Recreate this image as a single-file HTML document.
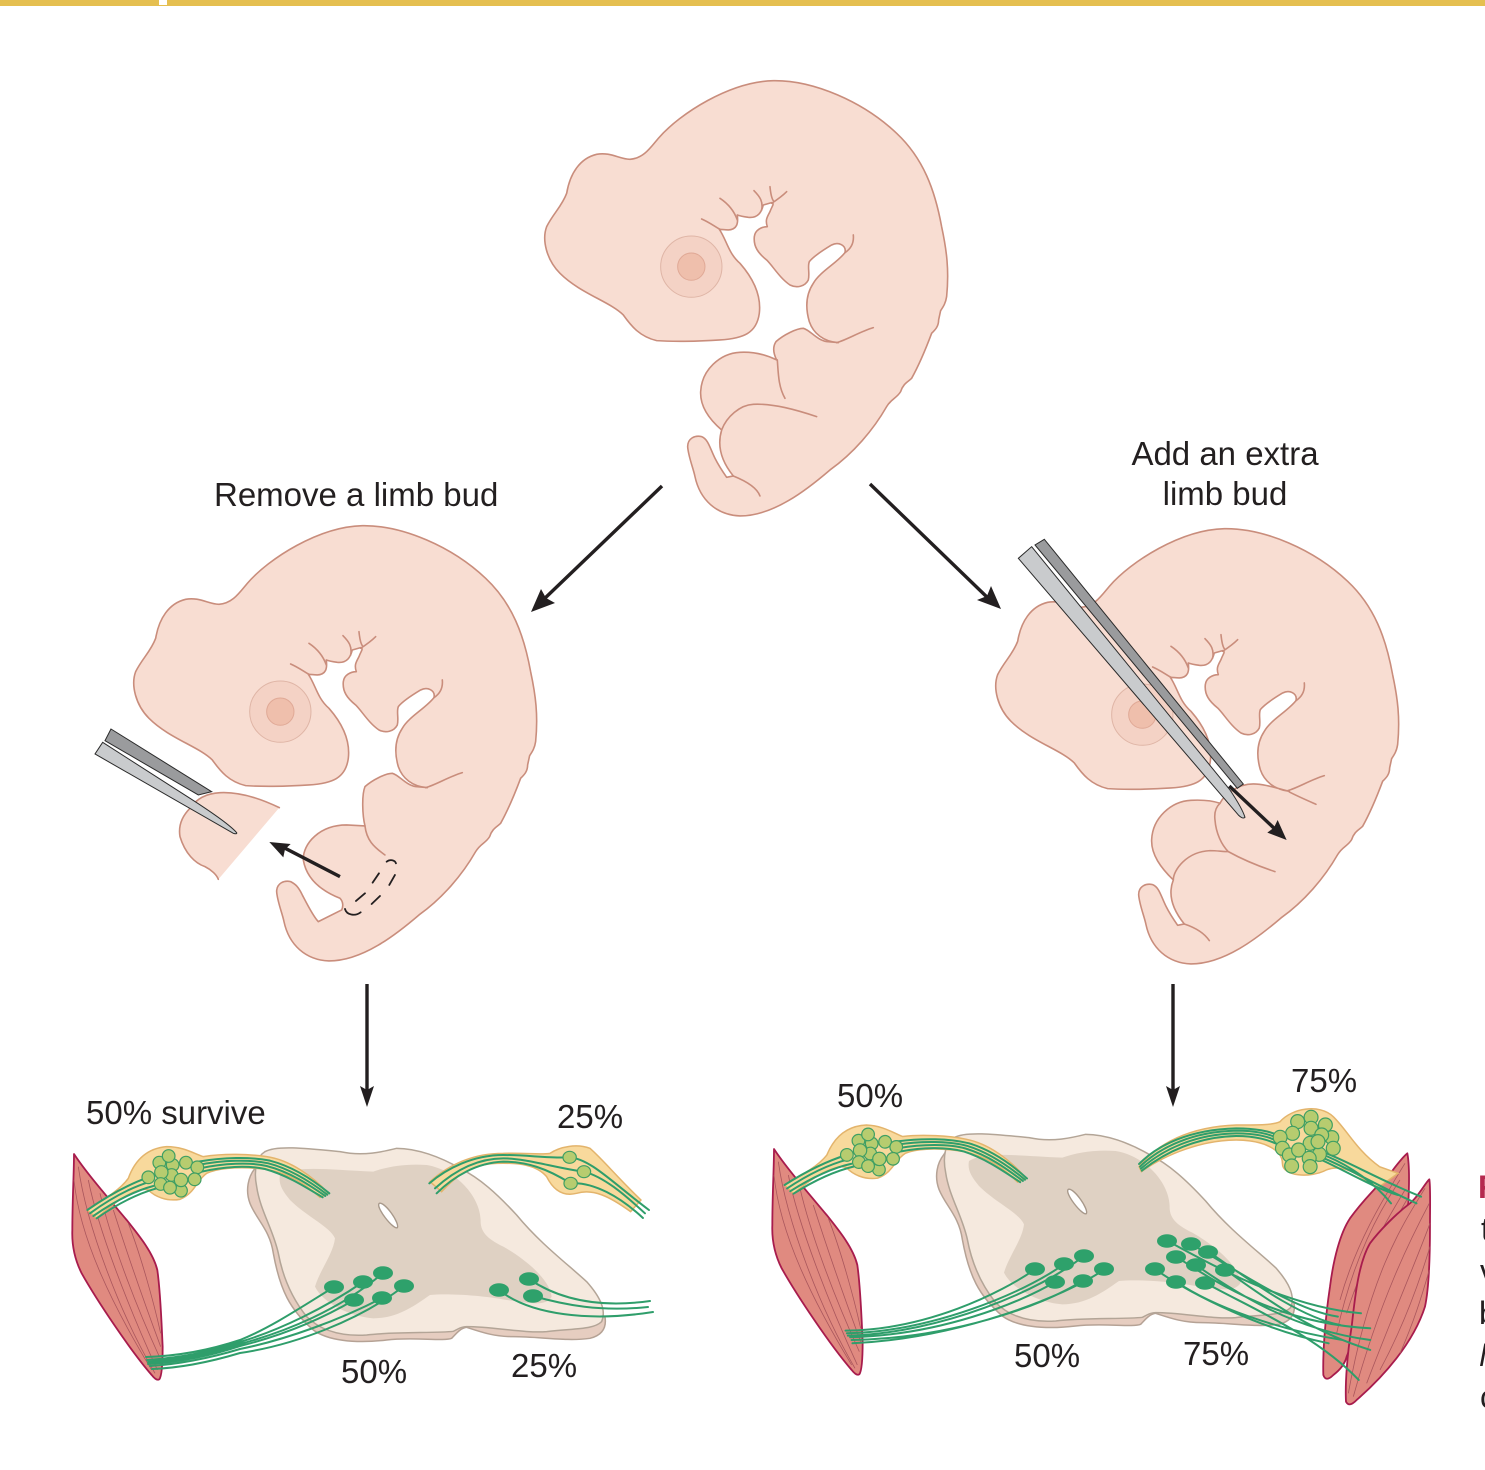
<!DOCTYPE html>
<html><head><meta charset="utf-8"><style>
html,body{margin:0;padding:0;background:#fff;width:1485px;height:1470px;overflow:hidden}
svg{display:block}
*{vector-effect:non-scaling-stroke}
text{font-family:"Liberation Sans",sans-serif;font-size:33px;fill:#231f20}
.b{fill:#f8ddd2;stroke:none}
.o{fill:none;stroke:#c98d7c;stroke-width:1.6;stroke-linecap:round;stroke-linejoin:round}
.ob{fill:#f8ddd2;stroke:#c98d7c;stroke-width:1.6;stroke-linejoin:round}
.ar{fill:none;stroke:#231f20;stroke-width:3.4}
.ah{fill:#231f20;stroke:none}
.rear{fill:#e6cdc0;stroke:#b5a295;stroke-width:1.5}
.front{fill:#f5e9de;stroke:#b3a597;stroke-width:1.5}
.grey{fill:#dfd1c3;stroke:none}
.can{fill:#fff;stroke:#a8998b;stroke-width:1.4}
.gang{fill:#f8d99c;stroke:#e3b46c;stroke-width:1.5}
.f{fill:none;stroke:#2f9e6b;stroke-width:2;stroke-linecap:round}
.c{fill:#b7cc6f;stroke:#3f9f63;stroke-width:1.2}
.n{fill:#2ea16b;stroke:none}
.m{fill:#e08a80;stroke:#a81c4d;stroke-width:1.8;stroke-linejoin:round}
.ml{fill:none;stroke:#a9565c;stroke-width:.8}
.fd{fill:#9a9b9d;stroke:#2a2a2a;stroke-width:1}
.fl{fill:#c9cbcd;stroke:#2a2a2a;stroke-width:1}
</style></head><body>
<svg width="1485" height="1470" viewBox="0 0 1485 1470" xmlns="http://www.w3.org/2000/svg">
<defs>
<g id="eye">
<circle cx="484" cy="590" r="92" fill="#f4d2c5" stroke="#dfb5a6" stroke-width="1"/>
<circle cx="484" cy="590" r="41" fill="#efbfac" stroke="#e0a996" stroke-width="1"/>
</g>
<g id="lines" class="o">
<path d="M515,447C540,458 555,470 570,478M570,385C600,405 615,430 622,450M672,362C690,380 700,395 695,420M720,350C722,370 725,385 730,392M770,365C755,380 740,390 725,400M970,495C972,515 965,535 945,548M1030,773C990,785 950,810 920,818"/>
</g>
<path id="full" d="M300,268C340,265 360,235 385,205C450,130 600,35 730,32C850,30 1000,95 1100,190C1180,265 1215,360 1235,470C1250,540 1258,600 1250,680C1247,700 1240,710 1232,722L1226,750C1226,770 1215,780 1205,790C1190,830 1170,880 1145,925C1135,935 1120,940 1112,965C1100,985 1085,985 1070,1010C1030,1080 970,1150 900,1200C830,1260 730,1338 630,1338C560,1335 510,1290 495,1220C490,1195 475,1160 473,1130C473,1105 495,1095 515,1100C535,1108 540,1135 555,1165C565,1185 578,1205 590,1222L610,1218C575,1175 560,1130 575,1080C540,1050 510,1010 512,965C515,900 570,850 630,847C670,845 710,855 740,870C730,850 728,830 738,815C760,795 800,775 820,775C840,780 860,810 890,815L925,818C880,815 850,790 838,755C825,710 830,670 850,640C870,605 920,580 945,548C950,525 925,515 905,525C880,540 850,560 838,575C832,590 840,610 835,630C825,650 800,655 780,645C750,625 730,590 710,570C685,550 670,530 673,500C675,480 695,470 712,470C705,450 712,440 720,425C725,410 735,400 725,398L700,405C695,425 685,445 655,442C640,440 630,438 622,435C625,460 622,478 595,480C585,480 575,478 568,478C590,510 595,550 630,580C665,620 695,670 688,730C680,790 640,805 570,810C500,815 420,815 380,812C330,800 305,770 280,735C240,695 150,670 90,610C50,570 35,510 50,470C70,430 95,410 110,370C120,310 150,265 200,253C240,245 270,268 300,268Z"/>
<path id="rightbody" d="M300,268C340,265 360,235 385,205C450,130 600,35 730,32C850,30 1000,95 1100,190C1180,265 1215,360 1235,470C1250,540 1258,600 1250,680C1247,700 1240,710 1232,722L1226,750C1226,770 1215,780 1205,790C1190,830 1170,880 1145,925C1135,935 1120,940 1112,965C1100,985 1085,985 1070,1010C1030,1080 970,1150 900,1200C830,1260 730,1338 630,1338C560,1335 510,1290 495,1220C490,1195 475,1160 473,1130C473,1105 495,1095 515,1100C535,1108 540,1135 555,1165C565,1185 578,1205 590,1222L610,1218C575,1175 560,1130 577,1086C540,1050 510,1010 512,965C515,900 570,850 630,847C670,845 700,850 717,856C730,830 770,798 817,798C850,798 885,810 925,820C880,815 850,790 838,755C825,710 830,670 850,640C870,605 920,580 945,548C950,525 925,515 905,525C880,540 850,560 838,575C832,590 840,610 835,630C825,650 800,655 780,645C750,625 730,590 710,570C685,550 670,530 673,500C675,480 695,470 712,470C705,450 712,440 720,425C725,410 735,400 725,398L700,405C695,425 685,445 655,442C640,440 630,438 622,435C625,460 622,478 595,480C585,480 575,478 568,478C590,510 595,550 630,580C665,620 695,670 688,730C680,790 640,805 570,810C500,815 420,815 380,812C330,800 305,770 280,735C240,695 150,670 90,610C50,570 35,510 50,470C70,430 95,410 110,370C120,310 150,265 200,253C240,245 270,268 300,268Z"/>
<path id="leftbody" d="M300,268C340,265 360,235 385,205C450,130 600,35 730,32C850,30 1000,95 1100,190C1180,265 1215,360 1235,470C1250,540 1258,600 1250,680C1247,700 1240,710 1232,722L1226,750C1226,770 1215,780 1205,790C1190,830 1170,880 1145,925C1135,935 1120,940 1112,965C1100,985 1085,985 1070,1010C1030,1080 970,1150 900,1200C830,1260 730,1338 630,1338C560,1335 510,1290 495,1220C490,1195 475,1160 473,1130C473,1105 495,1095 515,1100C530,1108 538,1115 550,1140C563,1165 583,1205 598,1220L668,1185C673,1175 673,1160 663,1150C613,1130 563,1095 553,1035C551,985 603,930 683,930L738,933C730,900 728,840 738,815C760,795 800,775 820,775C840,780 860,810 890,815L925,818C880,815 850,790 838,755C825,710 830,670 850,640C870,605 920,580 945,548C950,525 925,515 905,525C880,540 850,560 838,575C832,590 840,610 835,630C825,650 800,655 780,645C750,625 730,590 710,570C685,550 670,530 673,500C675,480 695,470 712,470C705,450 712,440 720,425C725,410 735,400 725,398L700,405C695,425 685,445 655,442C640,440 630,438 622,435C625,460 622,478 595,480C585,480 575,478 568,478C590,510 595,550 630,580C665,620 695,670 688,730C680,790 640,805 570,810C500,815 420,815 380,812C330,800 305,770 280,735C240,695 150,670 90,610C50,570 35,510 50,470C70,430 95,410 110,370C120,310 150,265 200,253C240,245 270,268 300,268Z"/>
<g id="cord">
<path class="rear" d="M45,85C25,110 15,150 30,190C50,240 90,270 100,340C120,450 150,510 220,570C260,600 340,612 440,600C520,590 610,605 635,595C650,580 660,565 680,562C720,575 760,590 820,590C900,590 980,605 1050,595C1090,585 1100,560 1095,530L75,35Z"/>
<path class="front" d="M75,35C110,15 200,25 300,35C370,50 430,35 470,25C530,25 600,50 660,85C720,115 770,160 830,225C900,310 980,370 1040,425C1080,470 1100,510 1085,545C1060,570 1000,565 920,575C850,580 760,560 680,560C660,560 650,570 640,574C590,580 460,575 380,585C300,590 240,570 200,530C160,480 130,420 115,340C100,270 60,210 50,140C40,90 50,50 75,35Z"/>
<path class="grey" d="M120,105C170,75 270,90 400,95C440,80 500,70 560,75C650,90 720,170 722,240C720,280 750,300 790,320C860,360 930,420 935,470C920,500 870,490 800,480C720,465 620,460 570,465C520,500 470,535 400,535C330,530 250,490 225,440C240,390 280,340 285,295C270,260 200,230 150,180C125,150 115,130 120,105Z"/>
<path class="can" d="M418,190C435,185 480,250 472,263C460,270 405,200 418,190Z"/>
</g>
<g id="lmus">
<path class="m" d="M12,42C50,100 120,180 170,240C210,290 250,340 262,390C272,460 275,560 278,620C278,680 274,710 268,718C262,722 255,718 245,705C180,630 80,480 35,400C15,360 5,320 7,270C7,180 12,100 12,42Z"/>
<path class="ml" d="M12,120C30,300 130,500 245,690M25,80C50,260 150,520 255,700M55,120C85,270 175,500 262,690M90,160C120,290 190,480 268,650M130,210C165,320 220,480 272,620M175,250C210,340 250,480 272,580"/>
</g>
<g id="lgang">
<path class="gang" d="M52,210C100,180 150,150 175,115C195,60 230,25 290,20C340,20 370,40 400,50C460,40 540,42 590,50C660,60 730,110 775,160L750,172C700,125 640,90 560,85C500,80 440,85 410,100C380,120 375,160 330,178C290,185 255,170 235,150C210,140 150,170 80,235Z"/>
<path class="f" d="M52,210C110,170 170,135 235,112M60,220C115,180 175,145 240,125M70,228C125,190 185,155 250,138M80,235C130,200 190,165 260,145M385,65C460,52 540,50 600,62C670,80 730,120 778,160M385,75C460,60 540,58 595,70C665,88 725,128 772,164M390,85C460,70 540,66 590,78C660,96 715,133 766,168M395,95C460,80 530,75 585,87C650,105 705,140 758,172"/>
<g class="c">
<circle cx="268" cy="68" r="19"/><circle cx="348" cy="68" r="19"/><circle cx="308" cy="75" r="19"/><circle cx="382" cy="82" r="19"/><circle cx="296" cy="48" r="19"/><circle cx="305" cy="105" r="19"/><circle cx="274" cy="97" r="20"/><circle cx="235" cy="112" r="19"/><circle cx="374" cy="118" r="19"/><circle cx="272" cy="132" r="19"/><circle cx="333" cy="152" r="19"/><circle cx="300" cy="143" r="19"/><circle cx="333" cy="120" r="20"/>
</g>
</g>
</defs>

<rect x="0" y="0" width="1485" height="6" fill="#e5bf50"/>
<rect x="159" y="0" width="8" height="5" fill="#fff"/>

<!-- top embryo -->
<g transform="translate(530,70) scale(.3333)">
<use href="#full" class="ob"/>
<use href="#eye"/><use href="#lines"/>
<path class="o" d="M742,870C745,910 745,950 765,985M860,1040C800,1020 730,1000 670,1003C630,1005 590,1040 575,1080M610,1218C640,1230 680,1250 690,1278"/>
</g>

<!-- left embryo -->
<g transform="translate(119,515) scale(.3333)">
<use href="#leftbody" class="ob"/>
<use href="#eye"/><use href="#lines"/>
<path class="o" d="M738,933C743,975 763,995 798,1020"/>
</g>
<g transform="translate(80,710) scale(.3333)">
<path class="fd" d="M93,57L395,245L355,255L75,92Z"/>
<path class="b" d="M598,293C540,265 480,245 420,248C380,250 350,265 330,295C305,320 295,350 300,380C315,430 345,460 375,470C395,480 410,495 415,508Z"/>
<path class="o" d="M598,293C540,265 480,245 420,248C380,250 350,265 330,295C305,320 295,350 300,380C315,430 345,460 375,470C395,480 410,495 415,508"/>
<path class="fl" d="M68,97L330,265C400,310 450,345 470,368C472,372 465,372 460,370L45,132Z"/>
<path fill="none" stroke="#231f20" stroke-width="1.8" stroke-linecap="round" d="M920,455C930,447 945,450 948,460M945,495L928,525M897,490L878,518M855,550L828,573M900,558L875,582M795,597C800,615 825,620 842,607"/>
<path class="ar" d="M780,500L610,412"/>
<path class="ah" d="M568,396L632,402L615,418L610,442Z"/>
</g>

<!-- right embryo -->
<g transform="translate(981,518) scale(.3333)">
<use href="#rightbody" class="ob"/>
<use href="#eye"/><use href="#lines"/>
<path class="o" d="M717,856C702,870 700,890 702,906C705,946 722,981 742,1001C787,1026 837,1046 882,1061M577,1086C577,1056 617,1001 687,998C707,998 727,1001 742,1001M925,822C950,835 980,848 1005,859M610,1218C640,1228 670,1245 685,1268"/>
</g>
<g transform="translate(1010,530) scale(.3333)">
<path class="fd" d="M103,28L700,762L682,775L75,45Z"/>
<path class="fl" d="M65,50L660,780C680,810 700,845 705,862C700,868 690,860 685,855L25,85Z"/>
<path class="ar" d="M658,768L800,902"/>
<path class="ah" d="M830,930L772,908L792,893L803,870Z"/>
</g>

<!-- main arrows -->
<path class="ar" d="M662,486L542,601"/><path class="ah" d="M531,612L541,589L546,598L555,603Z"/>
<path class="ar" d="M870,484L990,600"/><path class="ah" d="M1001,609L977,600L987,596L991,586Z"/>
<path class="ar" d="M367,984V1092"/><path class="ah" d="M367,1107L360,1086L367,1090L374,1086Z"/>
<path class="ar" d="M1173,984V1092"/><path class="ah" d="M1173,1107L1166,1086L1173,1090L1180,1086Z"/>

<!-- bottom left -->
<g transform="translate(70,1140) scale(.3333)"><use href="#lmus"/></g>
<g transform="translate(240,1140) scale(.3333)"><use href="#cord"/></g>
<g transform="translate(70,1140) scale(.3333)"><use href="#lgang"/></g>
<g transform="translate(240,1140) scale(.3333)">
<path class="gang" d="M570,125C620,80 690,40 790,40C860,38 900,45 930,40C960,20 1010,10 1050,25C1090,60 1130,110 1203,180L1172,215C1110,170 1060,145 1010,160C970,170 940,150 920,110C890,75 840,68 770,70C700,72 650,105 605,155Z"/>
<path class="f" d="M568,130C620,85 700,45 790,45C860,45 930,55 988,52C1050,55 1120,130 1227,210M585,145C640,95 710,55 790,55C860,55 950,85 1032,95C1090,110 1150,160 1215,220M590,160C640,110 710,68 790,65C860,65 920,85 992,130C1060,125 1140,170 1209,234"/>
<g class="c"><ellipse cx="989" cy="52" rx="20" ry="18"/><ellipse cx="1032" cy="95" rx="20" ry="18"/><ellipse cx="992" cy="130" rx="20" ry="18"/></g>
</g>
<path class="f" d="M334,1287C300,1308 270,1328 240,1340C210,1350 180,1356 146,1357M363,1282C325,1308 280,1330 240,1342C210,1352 180,1358 147,1360M383,1273C340,1310 285,1332 240,1344C210,1354 180,1360 148,1362M354,1300C320,1320 280,1336 240,1346C210,1356 180,1362 148,1364M382,1298C340,1320 285,1340 240,1349C210,1358 180,1364 150,1366M404,1286C360,1320 295,1345 240,1353C210,1362 180,1368 152,1369M529,1279C560,1300 600,1308 650,1301M499,1290C530,1315 590,1322 653,1312M533,1296C565,1305 600,1312 648,1307"/>
<g class="n"><ellipse cx="334" cy="1287" rx="10" ry="6.8"/><ellipse cx="363" cy="1282" rx="10" ry="6.8"/><ellipse cx="383" cy="1273" rx="10" ry="6.8"/><ellipse cx="404" cy="1286" rx="10" ry="6.8"/><ellipse cx="354" cy="1300" rx="10" ry="6.8"/><ellipse cx="382" cy="1298" rx="10" ry="6.8"/><ellipse cx="499" cy="1290" rx="10" ry="6.8"/><ellipse cx="529" cy="1279" rx="10" ry="6.8"/><ellipse cx="533" cy="1296" rx="10" ry="6.8"/></g>

<!-- bottom right -->
<g transform="translate(770,1135) scale(.3333)"><use href="#lmus"/></g>
<g transform="translate(1290,1100) scale(.3333)">
<path class="m" d="M352,160C340,170 320,195 305,215C270,250 220,300 180,355C150,400 130,480 120,560C105,660 98,760 100,825C105,840 115,840 130,825C150,810 165,790 170,770L355,310C358,250 358,190 352,160Z"/>
<path class="ml" d="M345,190C290,280 200,420 150,600M330,240C270,330 190,470 140,700M345,270C290,360 220,480 170,640M350,300C310,370 250,480 190,580"/>
<path class="m" d="M418,238C405,250 385,290 360,310C320,340 270,390 240,430C205,490 195,590 185,680C172,760 165,850 168,905C175,918 185,915 200,900C280,830 370,730 405,620C418,560 420,470 420,380C420,320 422,260 418,238Z"/>
<path class="ml" d="M405,265C340,370 240,520 175,880M418,310C360,420 270,600 190,890M420,370C380,480 310,640 230,850M420,440C390,540 340,680 270,810M418,510C395,590 370,670 330,760"/>
</g>
<g transform="translate(689,-14)"><g transform="translate(240,1140) scale(.3333)"><use href="#cord"/></g></g>
<g transform="translate(697,-25) rotate(2.4 88 1215)"><g transform="translate(70,1140) scale(.3333)"><use href="#lgang"/></g></g>
<g transform="translate(760,1060) scale(.4623,.3333)">
<path class="gang" d="M820,320C860,250 930,200 1030,195C1080,195 1110,195 1125,185C1150,145 1210,130 1240,170C1270,210 1290,270 1340,320L1380,340L1335,385C1290,340 1260,310 1225,330C1190,355 1130,350 1130,310C1130,270 1090,240 1030,240C960,240 880,280 825,335Z"/>
<path class="f" d="M820,312C860,255 930,208 1030,205C1070,205 1100,212 1130,230M822,320C865,262 935,215 1030,212C1070,212 1100,220 1130,240M824,326C870,270 940,222 1030,220C1070,220 1100,228 1130,250M826,332C875,278 945,230 1030,228C1070,228 1100,238 1130,260M1225,280C1280,310 1340,360 1430,410M1225,288C1280,320 1330,370 1365,430M1220,295C1280,330 1340,380 1420,430M1215,300C1270,335 1330,385 1380,405"/>
<g class="c">
<ellipse cx="1163" cy="185" rx="15" ry="21"/><ellipse cx="1223" cy="195" rx="15" ry="21"/><ellipse cx="1192" cy="172" rx="15" ry="21"/><ellipse cx="1152" cy="220" rx="15" ry="21"/><ellipse cx="1192" cy="205" rx="15" ry="21"/><ellipse cx="1125" cy="232" rx="15" ry="21"/><ellipse cx="1237" cy="233" rx="15" ry="21"/><ellipse cx="1215" cy="225" rx="15" ry="21"/><ellipse cx="1130" cy="265" rx="15" ry="21"/><ellipse cx="1240" cy="265" rx="15" ry="21"/><ellipse cx="1210" cy="283" rx="15" ry="21"/><ellipse cx="1145" cy="285" rx="15" ry="21"/><ellipse cx="1190" cy="250" rx="15" ry="21"/><ellipse cx="1165" cy="270" rx="15" ry="21"/><ellipse cx="1207" cy="245" rx="15" ry="21"/><ellipse cx="1188" cy="295" rx="15" ry="21"/><ellipse cx="1150" cy="318" rx="15" ry="21"/><ellipse cx="1190" cy="320" rx="15" ry="21"/>
</g>
<path class="f" d="M595,628C520,700 360,810 185,812M657,613C570,700 370,815 188,820M700,588C610,690 390,820 190,827M638,666C560,730 390,825 195,832M745,628C660,710 430,835 200,850M698,662C610,740 410,835 198,840M880,542C960,600 1130,740 1300,760M933,553C1010,610 1150,750 1250,770M970,575C1040,640 1160,770 1255,795M900,590C990,670 1120,790 1320,805M943,615C1020,690 1150,810 1320,840M1007,630C1080,700 1180,810 1320,870M855,628C940,710 1090,810 1230,850M900,665C980,740 1120,810 1260,840M963,668C1040,730 1200,820 1295,960"/>
</g>
<g class="n">
<ellipse cx="1035" cy="1269" rx="10" ry="6.8"/><ellipse cx="1064" cy="1264" rx="10" ry="6.8"/><ellipse cx="1084" cy="1256" rx="10" ry="6.8"/><ellipse cx="1104" cy="1269" rx="10" ry="6.8"/><ellipse cx="1055" cy="1282" rx="10" ry="6.8"/><ellipse cx="1083" cy="1281" rx="10" ry="6.8"/>
<ellipse cx="1167" cy="1241" rx="10" ry="6.8"/><ellipse cx="1191" cy="1244" rx="10" ry="6.8"/><ellipse cx="1208" cy="1252" rx="10" ry="6.8"/><ellipse cx="1176" cy="1257" rx="10" ry="6.8"/><ellipse cx="1196" cy="1265" rx="10" ry="6.8"/><ellipse cx="1225" cy="1270" rx="10" ry="6.8"/><ellipse cx="1155" cy="1269" rx="10" ry="6.8"/><ellipse cx="1176" cy="1282" rx="10" ry="6.8"/><ellipse cx="1205" cy="1283" rx="10" ry="6.8"/>
</g>

<!-- labels -->
<text x="214" y="506">Remove a limb bud</text>
<text x="1225" y="465" text-anchor="middle">Add an extra</text>
<text x="1225" y="505" text-anchor="middle">limb bud</text>
<text x="86" y="1124">50% survive</text>
<text x="557" y="1128">25%</text>
<text x="341" y="1383">50%</text>
<text x="511" y="1377">25%</text>
<text x="837" y="1107">50%</text>
<text x="1291" y="1092">75%</text>
<text x="1014" y="1367">50%</text>
<text x="1183" y="1365">75%</text>

<!-- clipped caption at right edge -->
<text x="1478" y="1198" style="fill:#b5294e;font-weight:bold;font-size:32px">F</text>
<text x="1481" y="1240" style="font-size:32px">t</text>
<text x="1480" y="1282" style="font-size:32px">v</text>
<text x="1479" y="1324" style="font-size:32px">b</text>
<text x="1479" y="1366" style="font-size:32px;font-style:italic">M</text>
<text x="1480" y="1408" style="font-size:32px">c</text>
</svg>
</body></html>
